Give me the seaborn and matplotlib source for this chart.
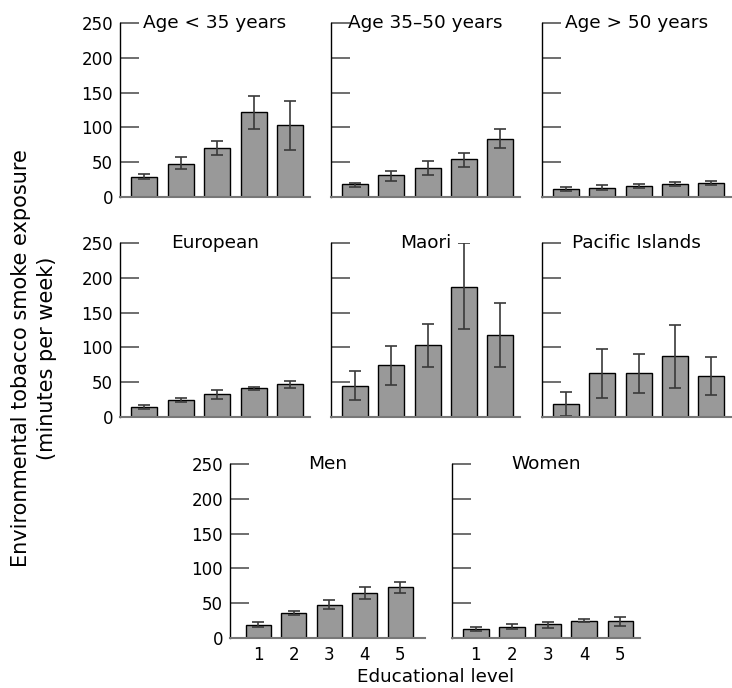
import numpy as np
import pandas as pd
import seaborn as sns
import matplotlib.pyplot as plt

# educational levels on the x axis
levels = ["1", "2", "3", "4", "5"]

# panel titles in reading order
titles = ["Age < 35 years", "Age 35\u201350 years", "Age > 50 years",
          "European", "Maori", "Pacific Islands", "Men", "Women"]

# mean exposure (minutes per week)
means = {
    "Age < 35 years": [29, 48, 71, 122, 103],
    "Age 35\u201350 years": [18, 31, 42, 54, 84],
    "Age > 50 years": [11, 13.5, 16.5, 19, 20],
    "European": [14.5, 24.5, 32.5, 41, 47.5],
    "Maori": [45, 74, 103, 187, 118],
    "Pacific Islands": [19, 63, 63, 87, 59],
    "Men": [19, 36, 48, 64.5, 73.5],
    "Women": [13.5, 16.5, 20, 25, 24.5],
}
# lower / upper ends of the error bars
lower = {
    "Age < 35 years": [26, 40, 61, 98, 68],
    "Age 35\u201350 years": [14, 23.5, 32, 43.5, 70],
    "Age > 50 years": [8, 10, 13.5, 16, 17],
    "European": [11, 21, 26, 38.5, 42],
    "Maori": [24, 46, 71.5, 127, 72],
    "Pacific Islands": [2, 28, 35, 41, 31],
    "Men": [16.5, 33, 41.5, 55.5, 64.5],
    "Women": [10, 13, 15, 22.5, 17],
}
upper = {
    "Age < 35 years": [32.5, 57.5, 80.5, 145.5, 138],
    "Age 35\u201350 years": [20, 37.5, 51.5, 63, 97],
    "Age > 50 years": [14.5, 17, 19, 22, 22.5],
    "European": [17.5, 28, 39, 43.5, 52],
    "Maori": [66, 101.5, 133.5, 249.5, 164],
    "Pacific Islands": [36.5, 98, 90.5, 132, 86],
    "Men": [22.5, 38.5, 54, 73, 81],
    "Women": [16.5, 19.5, 22.5, 27.5, 30.5],
}

sns.set_theme(style="white")
plt.rcParams['font.family'] = ['DejaVu Sans']
plt.rcParams['text.color'] = 'black'
plt.rcParams['xtick.color'] = 'black'
plt.rcParams['ytick.color'] = 'black'

W, H = 732, 688
fig = plt.figure(figsize=(W / 100, H / 100), dpi=100)

# axes boxes in pixels: left, right, top, bottom
rows = [(23, 197), (243, 417), (464, 638)]
cols3 = [(120, 310), (331, 520), (542, 731)]
boxes = []
for r in range(2):
    for c in range(3):
        boxes.append((cols3[c], rows[r]))
boxes.append(((230, 425), rows[2]))
boxes.append(((452, 640), rows[2]))

for i, title in enumerate(titles):
    (x0, x1), (y0, y1) = boxes[i]
    ax = fig.add_axes([x0 / W, 1 - y1 / H, (x1 - x0) / W, (y1 - y0) / H])
    df = pd.DataFrame({"level": levels, "value": means[title]})
    sns.barplot(data=df, x="level", y="value", color="#999999", saturation=1,
                edgecolor="black", linewidth=1, width=0.71, errorbar=None, ax=ax)
    m = np.array(means[title])
    yerr = [m - np.array(lower[title]), np.array(upper[title]) - m]
    ax.errorbar(np.arange(5), m, yerr=yerr, fmt="none", ecolor="#3a3a3a",
                elinewidth=1.2, capsize=4.5, capthick=1.2)
    ax.set_ylim(0, 250)
    if title == "Men":
        ax.set_xlim(-0.8, 4.7)
    else:
        ax.set_xlim(-0.66, 4.54)
    ax.set_yticks([0, 50, 100, 150, 200, 250])
    ax.tick_params(axis="y", direction="in", length=14, width=1.2,
                   color="#555555", labelcolor="black", labelsize=12,
                   pad=5, left=True)
    ax.tick_params(axis="x", length=0, labelsize=12, labelcolor="black", pad=6)
    if i not in (0, 3, 6):
        ax.set_yticklabels([])
    if i < 6:
        ax.set_xticklabels([])
    ax.set_xlabel("")
    ax.set_ylabel("")
    sns.despine(ax=ax)
    ax.spines["left"].set_color("black")
    ax.spines["left"].set_linewidth(1)
    ax.spines["bottom"].set_color("#777777")
    ax.spines["bottom"].set_linewidth(1.5)
    ax.text(0.5, 1.0, title, transform=ax.transAxes, ha="center", va="center",
            fontsize=13.3, color="black")

fig.text(34 / W, 1 - 358 / H,
         "Environmental tobacco smoke exposure\n(minutes per week)",
         rotation=90, ha="center", va="center", multialignment="center",
         fontsize=15, linespacing=1.35, color="black")
fig.text(436 / W, 1 - 677 / H, "Educational level", ha="center", va="center",
         fontsize=13.2, color="black")

fig.savefig("out.png", dpi=100)
